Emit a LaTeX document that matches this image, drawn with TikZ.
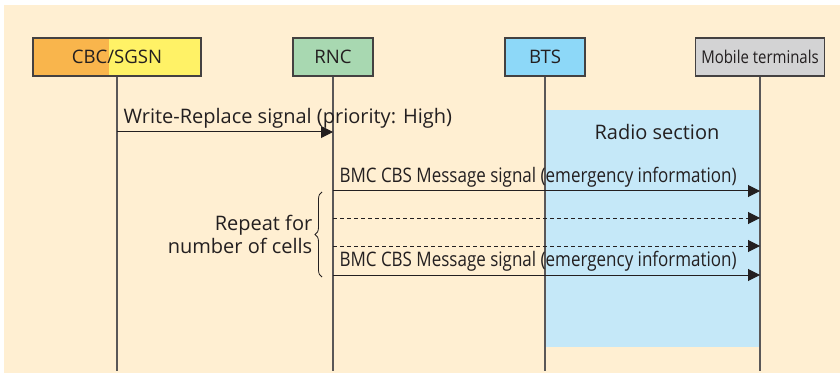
\documentclass[tikz,border=0pt]{standalone}
\usepackage{fontspec}
\setmainfont{Open Sans}
\newfontfamily\narrowfont[FakeStretch=0.85]{Open Sans}
\usetikzlibrary{arrows.meta,decorations.pathreplacing}
\definecolor{panel}{HTML}{FFEFD2}
\definecolor{radio}{HTML}{C5E8F8}
\definecolor{cbcorange}{HTML}{F9B54C}
\definecolor{cbcyellow}{HTML}{FFF266}
\definecolor{rncgreen}{HTML}{A8D8B1}
\definecolor{btsblue}{HTML}{8DD8F8}
\definecolor{mtgray}{HTML}{D3D3D4}
\definecolor{ink}{HTML}{231F20}

\begin{document}
\begin{tikzpicture}[x=1pt, y=-1pt, >={Triangle[length=12pt,width=12pt]},
    font=\fontsize{20}{23}\selectfont, text=ink,
    actor/.style={draw=ink!85, line width=1.2pt, minimum height=38pt, inner sep=0pt, font=\fontsize{18.6}{22}\selectfont},
    lifeline/.style={draw=ink!75, line width=1.5pt},
    msg/.style={draw=ink, line width=1pt, ->},
    msglabel/.style={pos=0, anchor=south west, xshift=4pt, yshift=1pt, inner sep=2pt, font=\narrowfont\fontsize{20}{23}\selectfont}]
    % background
    \fill[white] (0,0) rectangle (840,374);
    \fill[panel] (4,5) rectangle (840,373);
    \fill[radio] (545,110) rectangle (760,347);
    \node (radiolbl) at (657,132) {Radio section};

    % entities
    \node[actor, minimum width=168pt, fill=cbcyellow,
          path picture={\fill[cbcorange] (path picture bounding box.north west) rectangle ([xshift=76pt]path picture bounding box.south west);}]
          (cbc) at (117,57) {CBC/SGSN};
    \node[actor, minimum width=80pt, fill=rncgreen] (rnc) at (333,57) {RNC};
    \node[actor, minimum width=80pt, fill=btsblue] (bts) at (545,57) {BTS};
    \node[actor, minimum width=129pt, fill=mtgray, font=\narrowfont\fontsize{17.6}{20}\selectfont] (mt) at (760,57) {Mobile terminals};

    % lifelines
    \coordinate (bottom) at (0,371);
    \draw[lifeline] (cbc) -- (cbc |- bottom);
    \draw[lifeline] (rnc) -- (rnc |- bottom);
    \draw[lifeline] (bts) -- (bts |- bottom);
    \draw[lifeline] (mt) -- (mt |- bottom);

    % messages
    \coordinate (m1) at (0,132);
    \coordinate (m2) at (0,191);
    \coordinate (m3) at (0,218);
    \coordinate (m4) at (0,246);
    \coordinate (m5) at (0,275);
    \draw[msg] (cbc |- m1) -- node[msglabel, font=\fontsize{20}{23}\selectfont] {Write-Replace signal (priority: High)} (rnc |- m1);
    \draw[msg] (rnc |- m2) -- node[msglabel] {BMC CBS Message signal (emergency information)} (mt |- m2);
    \draw[msg, dash pattern=on 4pt off 3pt] (rnc |- m3) -- (mt |- m3);
    \draw[msg, dash pattern=on 4pt off 3pt] (rnc |- m4) -- (mt |- m4);
    \draw[msg] (rnc |- m5) -- node[msglabel] {BMC CBS Message signal (emergency information)} (mt |- m5);

    % repeat brace
    \coordinate (bracetop) at (322,192);
    \coordinate (bracebot) at (322,277);
    \draw[ink, line width=0.8pt, decorate, decoration={brace, amplitude=7pt}] (bracebot) -- (bracetop)
        node[midway, left=6pt, align=right] (repeat) {Repeat for\\number of cells};
\end{tikzpicture}
\end{document}
